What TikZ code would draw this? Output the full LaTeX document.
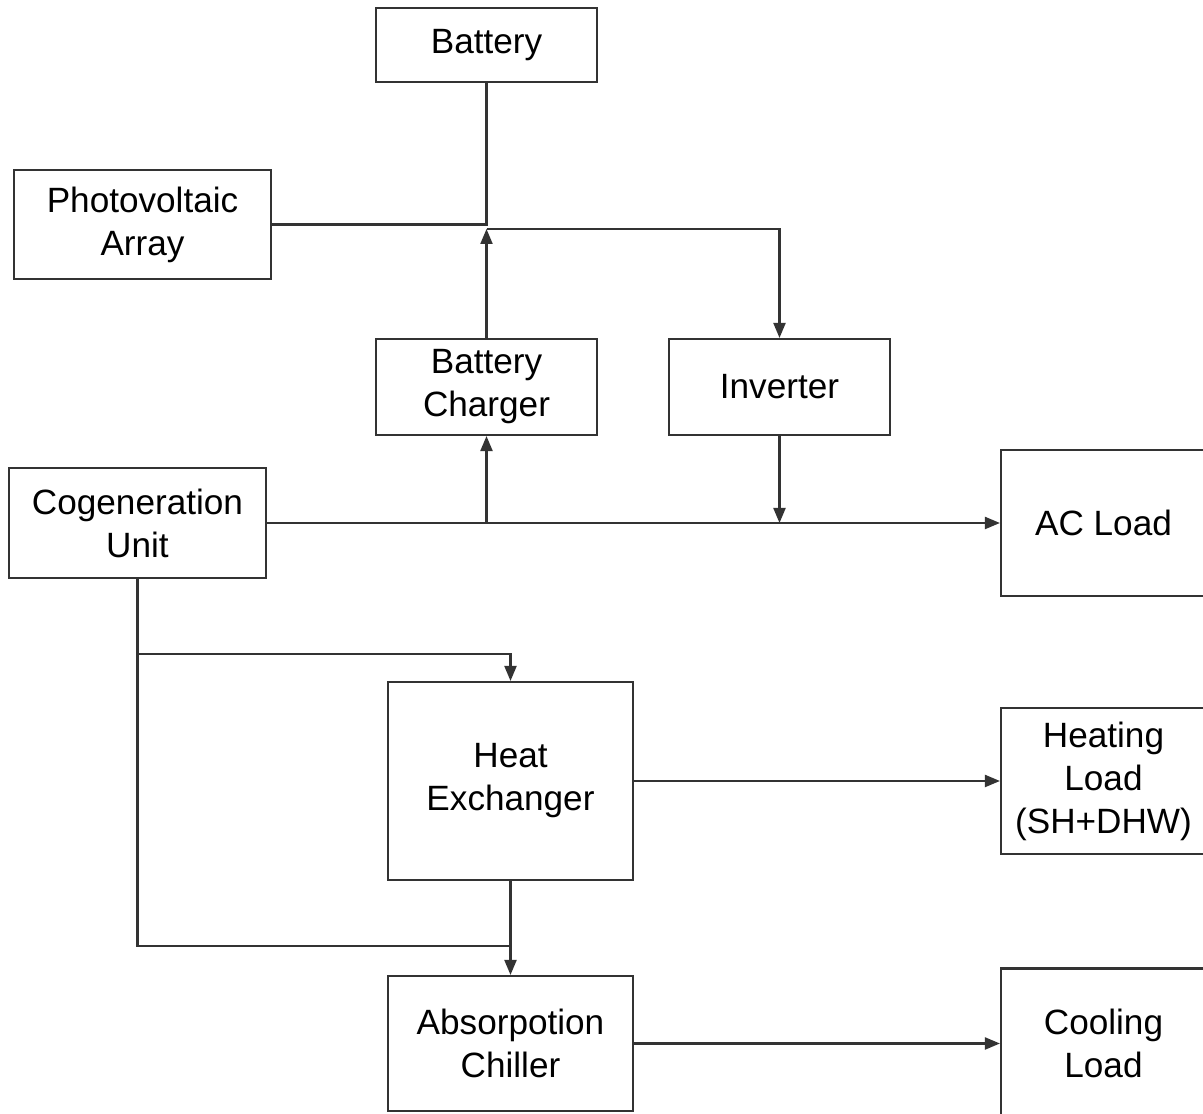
\documentclass[tikz,border=0pt]{standalone}
\usepackage{fontspec}
\setmainfont{Liberation Sans}
\usetikzlibrary{arrows.meta}
\usetikzlibrary{positioning}

\begin{document}
\begin{tikzpicture}[
  blk/.style={draw=black!80,line width=1.2pt,rectangle,align=center,inner sep=0pt,
    font=\fontsize{20}{24.5}\selectfont},
  wire/.style={draw=black!80,line width=1.2pt},
  flow/.style={wire,-{Triangle[length=3mm,width=2.4mm]}}
]
\clip (0,0) rectangle (24.06,22.28);
\fill[white] (0,0) rectangle (24.06,22.28);

% blocks
\node[blk,minimum width=4.42cm,minimum height=1.48cm] (bat) at (9.73,21.38) {Battery};
\node[blk,minimum width=5.14cm,minimum height=2.18cm] (pv) at (2.85,17.79) {Photovoltaic\\Array};
\node[blk,minimum width=4.42cm,minimum height=1.92cm] (chg) at (9.73,14.54) {Battery\\Charger};
\node[blk,minimum width=4.42cm,minimum height=1.92cm] (inv) at (15.59,14.54) {Inverter};
\node[blk,minimum width=5.14cm,minimum height=2.2cm] (cog) at (2.75,11.82) {Cogeneration\\Unit};
\node[blk,minimum width=4.1cm,minimum height=2.92cm] (ac) at (22.07,11.82) {AC Load};
\node[blk,minimum width=4.9cm,minimum height=3.96cm] (hx) at (10.21,6.66) {Heat\\Exchanger};
\node[blk,minimum width=4.1cm,minimum height=2.92cm] (heat) at (22.07,6.66) {Heating\\Load\\(SH+DHW)};
\node[blk,minimum width=4.9cm,minimum height=2.7cm] (chl) at (10.21,1.41) {Absorpotion\\Chiller};
\node[blk,minimum width=4.1cm,minimum height=3.0cm] (cool) at (22.07,1.41) {Cooling\\Load};

% tap points
\coordinate (tap) at (9.73,17.70);
\coordinate (uptap) at (2.75,9.2);
\coordinate (lowtap) at (10.21,3.36);

% electric side
\draw[wire] (bat.south) |- (pv.east);
\draw[flow] (chg.north) -- (tap);
\draw[flow] (tap) -| (inv.north);
\draw[flow] (cog.east) -- (ac.west);
\draw[flow] (chg.south |- cog.east) -- (chg.south);
\draw[flow] (inv.south) -- (inv.south |- cog.east);

% thermal side
\draw[wire] (cog.south) |- (lowtap);
\draw[flow] (uptap) -| (hx.north);
\draw[flow] (hx.south) -- (chl.north);
\draw[flow] (hx.east) -- (heat.west);
\draw[flow] (chl.east) -- (cool.west);

\end{tikzpicture}
\end{document}
